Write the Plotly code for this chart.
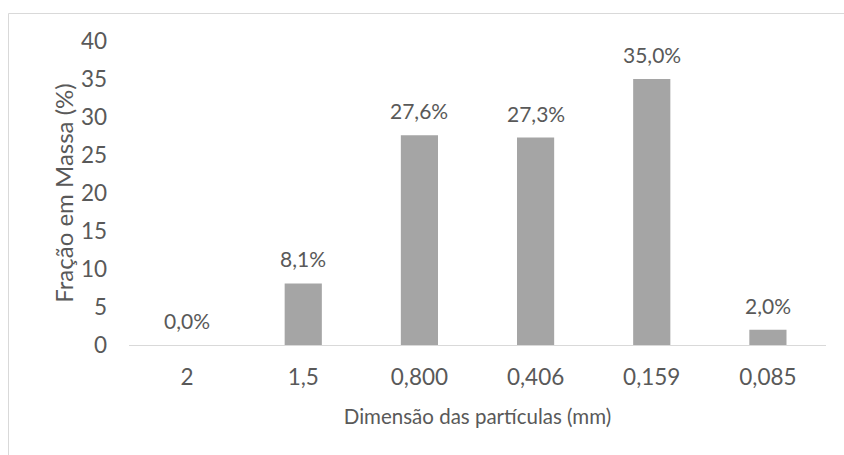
import plotly.graph_objects as go

# Particle size fractions (mass %)
categories = ["2", "1,5", "0,800", "0,406", "0,159", "0,085"]
fractions = [0.0, 8.1, 27.6, 27.3, 35.0, 2.0]
y_ticks = [0, 5, 10, 15, 20, 25, 30, 35, 40]

text_color = "#595959"
line_color = "#D9D9D9"
bar_color = "#A5A5A5"
font_family = "Lato, sans-serif"

fig = go.Figure(
    go.Bar(
        x=categories,
        y=fractions,
        marker=dict(color=bar_color, line=dict(width=0)),
        cliponaxis=False,
    )
)

# value labels above each bar, decimal comma (x given as category index)
for i, val in enumerate(fractions):
    fig.add_annotation(
        x=i,
        y=val,
        text=f"{val:.1f}%".replace(".", ","),
        showarrow=False,
        yanchor="bottom",
        yshift=10,
        font=dict(family=font_family, size=21, color=text_color),
    )

W, H = 844, 455
ml, mr, mt, mb = 129, 18, 41, 110
pw, ph = W - ml - mr, H - mt - mb


def px_x(px):
    return (px - ml) / pw


def px_y(py):
    return (H - mb - py) / ph


fig.update_layout(
    width=W,
    height=H,
    margin=dict(l=ml, r=mr, t=mt, b=mb),
    paper_bgcolor="white",
    plot_bgcolor="white",
    separators=",.",
    showlegend=False,
    bargap=0.68,
    font=dict(family=font_family, color=text_color),
    xaxis=dict(
        type="category",
        showline=True,
        linecolor=line_color,
        linewidth=1,
        ticks="",
        showgrid=False,
        ticklabelstandoff=12,
        tickfont=dict(size=22.5, color=text_color),
        title=dict(
            text="Dimensão das partículas (mm)",
            font=dict(size=20.5, color=text_color),
            standoff=20,
        ),
    ),
    yaxis=dict(
        range=[0, 40],
        tickvals=y_ticks,
        showgrid=False,
        zeroline=False,
        showline=False,
        ticks="",
        ticklabelstandoff=21,
        tickfont=dict(size=22.5, color=text_color),
        title=dict(
            text="Fração em Massa (%)",
            font=dict(size=24, color=text_color),
            standoff=0,
        ),
    ),
    shapes=[
        dict(
            type="rect",
            xref="paper",
            yref="paper",
            x0=px_x(8.5),
            x1=px_x(W + 5),
            y0=px_y(H + 5),
            y1=px_y(13.5),
            line=dict(color=line_color, width=1),
            fillcolor="rgba(0,0,0,0)",
            layer="below",
        )
    ],
)

fig.write_html("out.html")
